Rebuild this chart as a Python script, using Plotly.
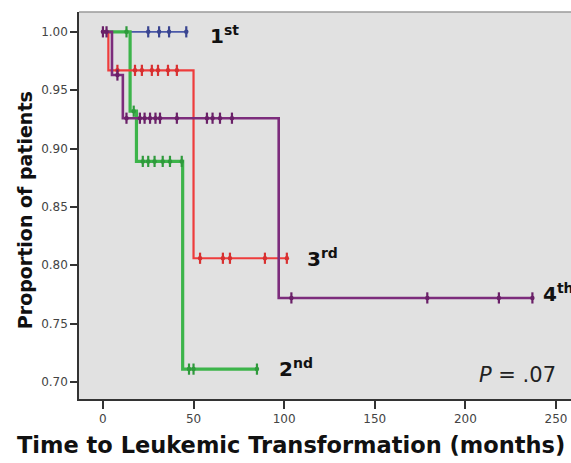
import numpy as np
import plotly.graph_objects as go

# Kaplan-Meier step curves: time of each step (months) and survival after it
first_times = [0, 46]
first_surv = [1.0, 1.0]
first_cens = [25, 31, 36.5, 46]

second_times = [0, 15, 18.5, 44, 85]
second_surv = [1.0, 0.932, 0.889, 0.711, 0.711]
second_cens = [13, 17, 22, 25, 28.5, 33, 37, 43.5, 47.5, 50, 85]

third_times = [0, 3, 50, 101.5]
third_surv = [1.0, 0.967, 0.806, 0.806]
third_cens = [8, 17.7, 21.5, 27, 30.4, 35.9, 40.8, 53.6, 66.2, 70.1, 89.4, 101.5]

fourth_times = [0, 5, 11, 97, 237]
fourth_surv = [1.0, 0.963, 0.926, 0.772, 0.772]
fourth_cens = [0, 2, 8, 13, 20.4, 23, 26, 29, 31.5, 40.8, 57.4, 60.5, 64.6,
               71.2, 104, 179, 218.5, 237]

x_ticks = [0, 50, 100, 150, 200, 250]
y_ticks = [0.70, 0.75, 0.80, 0.85, 0.90, 0.95, 1.00]

groups = [
    ("1st", first_times, first_surv, first_cens, "#4a58a8", "#3a4590", 1.6),
    ("2nd", second_times, second_surv, second_cens, "#3cb44a", "#2f9a3c", 3.2),
    ("3rd", third_times, third_surv, third_cens, "#ee3c3c", "#d83030", 2.2),
    ("4th", fourth_times, fourth_surv, fourth_cens, "#7c2c7c", "#6a2068", 2.6),
]


def surv_at(times, surv, t):
    idx = np.searchsorted(np.asarray(times), np.asarray(t), side="right") - 1
    return np.asarray(surv)[idx]


fig = go.Figure()
for name, t, s, c, col, mcol, lw in groups:
    fig.add_trace(go.Scatter(
        x=t, y=s, mode="lines", line=dict(color=col, width=lw, shape="hv"),
        name=name, showlegend=False, hoverinfo="skip"))
    cy = surv_at(t, s, c)
    # censoring ticks with a small dot at their centre
    fig.add_trace(go.Scatter(
        x=c, y=cy, mode="markers",
        marker=dict(symbol="line-ns-open", size=8, color=mcol,
                    line=dict(color=mcol, width=2.2)),
        name=name + " censored", showlegend=False))
    fig.add_trace(go.Scatter(
        x=c, y=cy, mode="markers",
        marker=dict(symbol="circle", size=4.5, color=mcol),
        name=name + " censored", showlegend=False, hoverinfo="skip"))

label_font = dict(family="DejaVu Sans", size=20, color="#111111")
labels = [
    ("<b>1<sup>st</sup></b>", 58, 0.997),
    ("<b>2<sup>nd</sup></b>", 96, 0.712),
    ("<b>3<sup>rd</sup></b>", 111.5, 0.806),
    ("<b>4<sup>th</sup></b>", 242, 0.776),
]
for txt, x, y in labels:
    fig.add_annotation(x=x, y=y, text=txt, showarrow=False, xanchor="left",
                       yanchor="middle", font=label_font)

fig.add_annotation(x=251, y=0.706, text="<i>P</i> = .07", showarrow=False,
                   xanchor="right", yanchor="middle",
                   font=dict(family="DejaVu Sans", size=21, color="#222222"))

# axis titles
fig.add_annotation(xref="paper", yref="paper", x=0.43, y=0, yshift=-46,
                   text="<b>Time to Leukemic Transformation (months)</b>",
                   showarrow=False, xanchor="center", yanchor="middle",
                   font=dict(family="DejaVu Sans", size=22.5, color="#111111"))
fig.add_annotation(xref="paper", yref="paper", x=0, xshift=-54, y=0.488,
                   text="<b>Proportion of patients</b>", textangle=-90,
                   showarrow=False, xanchor="center", yanchor="middle",
                   font=dict(family="DejaVu Sans", size=19, color="#111111"))

# top frame line
fig.add_shape(type="line", xref="paper", yref="paper", x0=0, x1=1, y0=1, y1=1,
              line=dict(color="#9a9a9a", width=1.5))

fig.update_layout(
    width=571, height=463,
    margin=dict(l=79, r=0, t=12, b=64),
    paper_bgcolor="white", plot_bgcolor="#e1e1e1",
    xaxis=dict(range=[-13.2, 258.3], tickvals=x_ticks, showgrid=False,
               zeroline=False, showline=True, linecolor="#333333",
               linewidth=1.5, ticks="outside", ticklen=8, tickwidth=1.5,
               tickcolor="#333333",
               tickfont=dict(family="DejaVu Sans", size=12, color="#444444")),
    yaxis=dict(range=[0.6854, 1.017], tickvals=y_ticks, tickformat=".2f",
               showgrid=False, zeroline=False, showline=True,
               linecolor="#333333", linewidth=1.5, ticks="outside", ticklen=7,
               tickwidth=1.5, tickcolor="#333333",
               tickfont=dict(family="DejaVu Sans", size=12, color="#444444")),
)

fig.write_html("out.html")
